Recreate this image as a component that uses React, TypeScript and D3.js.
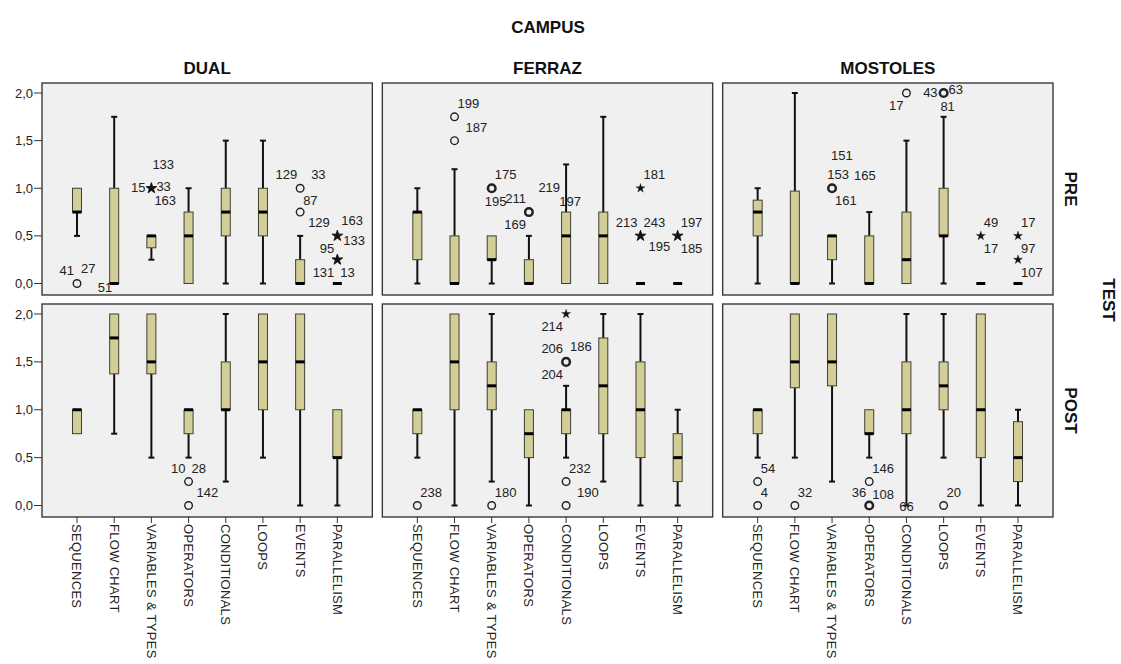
import React from "react";
import * as d3 from "d3";

// ---------- data ----------
const CAMPUSES = ["DUAL", "FERRAZ", "MOSTOLES"];
const TESTS = ["PRE", "POST"];
const CATEGORIES = [
  "SEQUENCES",
  "FLOW CHART",
  "VARIABLES & TYPES",
  "OPERATORS",
  "CONDITIONALS",
  "LOOPS",
  "EVENTS",
  "PARALLELISM",
];
const Y_TICKS = [0, 0.5, 1, 1.5, 2];

// [lower whisker, Q1, median, Q3, upper whisker]
type Stat = [number, number, number, number, number];

const DUAL_PRE: Stat[] = [
  [0.5, 0.75, 0.75, 1, 1],
  [0, 0, 0, 1, 1.75],
  [0.25, 0.375, 0.5, 0.5, 0.5],
  [0, 0, 0.5, 0.75, 1],
  [0, 0.5, 0.75, 1, 1.5],
  [0, 0.5, 0.75, 1, 1.5],
  [0, 0, 0, 0.25, 0.5],
  [0, 0, 0, 0, 0],
];
const FERRAZ_PRE: Stat[] = [
  [0, 0.25, 0.75, 0.75, 1],
  [0, 0, 0, 0.5, 1.2],
  [0, 0.25, 0.25, 0.5, 0.5],
  [0, 0, 0, 0.25, 0.5],
  [0, 0, 0.5, 0.75, 1.25],
  [0, 0, 0.5, 0.75, 1.75],
  [0, 0, 0, 0, 0],
  [0, 0, 0, 0, 0],
];
const MOSTOLES_PRE: Stat[] = [
  [0, 0.5, 0.75, 0.875, 1],
  [0, 0, 0, 0.97, 2],
  [0, 0.25, 0.5, 0.5, 0.5],
  [0, 0, 0, 0.5, 0.75],
  [0, 0, 0.25, 0.75, 1.5],
  [0, 0.5, 0.5, 1, 1.75],
  [0, 0, 0, 0, 0],
  [0, 0, 0, 0, 0],
];
const DUAL_POST: Stat[] = [
  [0.75, 0.75, 1, 1, 1],
  [0.75, 1.375, 1.75, 2, 2],
  [0.5, 1.375, 1.5, 2, 2],
  [0.5, 0.75, 1, 1, 1],
  [0.25, 1, 1, 1.5, 2],
  [0.5, 1, 1.5, 2, 2],
  [0, 1, 1.5, 2, 2],
  [0, 0.5, 0.5, 1, 1],
];
const FERRAZ_POST: Stat[] = [
  [0.5, 0.75, 1, 1, 1],
  [0, 1, 1.5, 2, 2],
  [0.25, 1, 1.25, 1.5, 2],
  [0, 0.5, 0.75, 1, 1],
  [0.5, 0.75, 1, 1, 1.25],
  [0.25, 0.75, 1.25, 1.75, 2],
  [0, 0.5, 1, 1.5, 2],
  [0, 0.25, 0.5, 0.75, 1],
];
const MOSTOLES_POST: Stat[] = [
  [0.5, 0.75, 1, 1, 1],
  [0.5, 1.23, 1.5, 2, 2],
  [0.25, 1.25, 1.5, 2, 2],
  [0.5, 0.75, 0.75, 1, 1],
  [0, 0.75, 1, 1.5, 2],
  [0.5, 1, 1.25, 1.5, 2],
  [0, 0.5, 1, 2, 2],
  [0, 0.25, 0.5, 0.875, 1],
];

// outliers: c = category index, v = value,
// k: "o" circle, "O" heavy circle, "s" star, "S" heavy star, "-" label only
// l: [case label, placement]
type Outlier = { c: number; v: number; k: string; l: [string, string][] };

const DUAL_PRE_OUT: Outlier[] = [
  { c: 0, v: 0, k: "o", l: [["41", "NW"], ["27", "NEhi"]] },
  { c: 1, v: 0, k: "-", l: [["51", "Wlo"]] },
  { c: 2, v: 1, k: "S", l: [["15", "W"], ["133", "NE2"], ["33", "E"], ["163", "SE"]] },
  { c: 6, v: 1, k: "o", l: [["129", "NW"], ["33", "NEfar"], ["87", "SE"]] },
  { c: 6, v: 0.75, k: "o", l: [["129", "SEfar"]] },
  { c: 7, v: 0.5, k: "S", l: [["163", "NEhi"], ["133", "Elo"], ["95", "SW"]] },
  { c: 7, v: 0.25, k: "S", l: [["131", "SW"], ["13", "SE"]] },
];
const FERRAZ_PRE_OUT: Outlier[] = [
  { c: 1, v: 1.75, k: "o", l: [["199", "NE"]] },
  { c: 1, v: 1.5, k: "o", l: [["187", "NEfar"]] },
  { c: 2, v: 1, k: "O", l: [["175", "NE"], ["195", "S"]] },
  { c: 3, v: 0.75, k: "O", l: [["211", "NW"], ["169", "SW"]] },
  { c: 4, v: 1, k: "-", l: [["219", "W"], ["197", "S"]] },
  { c: 6, v: 1, k: "s", l: [["181", "NE"]] },
  { c: 6, v: 0.5, k: "S", l: [["213", "NW"], ["243", "NE"], ["195", "SEfar"]] },
  { c: 7, v: 0.5, k: "S", l: [["197", "NE"], ["185", "SE"]] },
];
const MOSTOLES_PRE_OUT: Outlier[] = [
  { c: 2, v: 1, k: "O", l: [["151", "N3"], ["153", "N"], ["165", "ENE"], ["161", "SE"]] },
  { c: 4, v: 2, k: "o", l: [["17", "SW"]] },
  { c: 5, v: 2, k: "O", l: [["43", "W"], ["63", "Ehi"], ["81", "S"]] },
  { c: 6, v: 0.5, k: "s", l: [["49", "NE"], ["17", "SE"]] },
  { c: 7, v: 0.5, k: "s", l: [["17", "NE"], ["97", "SE"]] },
  { c: 7, v: 0.25, k: "s", l: [["107", "SE"]] },
];
const DUAL_POST_OUT: Outlier[] = [
  { c: 3, v: 0.25, k: "o", l: [["10", "NW"], ["28", "NE"], ["142", "SEfar"]] },
  { c: 3, v: 0, k: "o", l: [] },
];
const FERRAZ_POST_OUT: Outlier[] = [
  { c: 0, v: 0, k: "o", l: [["238", "NE"]] },
  { c: 2, v: 0, k: "o", l: [["180", "NE"]] },
  { c: 4, v: 2, k: "s", l: [["214", "SW"]] },
  { c: 4, v: 1.5, k: "O", l: [["206", "NW"], ["186", "NEhi"], ["204", "SW"]] },
  { c: 4, v: 0.25, k: "o", l: [["232", "NE"]] },
  { c: 4, v: 0, k: "o", l: [["190", "NEfar"]] },
];
const MOSTOLES_POST_OUT: Outlier[] = [
  { c: 0, v: 0.25, k: "o", l: [["54", "NE"]] },
  { c: 0, v: 0, k: "o", l: [["4", "NE"]] },
  { c: 1, v: 0, k: "o", l: [["32", "NE"]] },
  { c: 3, v: 0.25, k: "o", l: [["146", "NE"], ["108", "SE"]] },
  { c: 3, v: 0, k: "O", l: [["36", "NW"]] },
  { c: 4, v: 0, k: "-", l: [["66", "C"]] },
  { c: 5, v: 0, k: "o", l: [["20", "NE"]] },
];

const BOXES: Stat[][][] = [
  [DUAL_PRE, FERRAZ_PRE, MOSTOLES_PRE],
  [DUAL_POST, FERRAZ_POST, MOSTOLES_POST],
];
const OUTLIERS: Outlier[][][] = [
  [DUAL_PRE_OUT, FERRAZ_PRE_OUT, MOSTOLES_PRE_OUT],
  [DUAL_POST_OUT, FERRAZ_POST_OUT, MOSTOLES_POST_OUT],
];

// ---------- layout / style ----------
const W = 1121;
const H = 664;
const FONT = "Arial, 'Liberation Sans', Helvetica, sans-serif";
const LEFT = 42;
const RIGHT = 1053;
const COL_GAP = 10;
const PANEL_W = (RIGHT - LEFT - 2 * COL_GAP) / 3;
const ROWS = [
  { top: 83, bottom: 295 },
  { top: 304, bottom: 517 },
];
const BOX_FILL = "#D3CE97";
const PANEL_FILL = "#F0F0F0";
const BOX_W = 9;
const CAP_W = 6;

const PLACES: Record<string, [string, number, number]> = {
  N: ["middle", 6, -9],
  N3: ["start", -1, -28],
  NE: ["start", 3, -9],
  NEhi: ["start", 4, -11],
  NE2: ["start", 1, -19],
  NEfar: ["start", 11, -9],
  ENE: ["start", 22, -8],
  E: ["start", 5, 3],
  Elo: ["start", 6, 9],
  Ehi: ["start", 5, 1],
  SE: ["start", 3, 17],
  SEfar: ["start", 8, 15],
  S: ["middle", 4, 18],
  SW: ["end", -3, 17],
  W: ["end", -6, 4],
  Wlo: ["end", -2, 8],
  NW: ["end", -3, -9],
  C: ["middle", 0, 5],
};

const starPath = d3.symbol().type(d3.symbolStar).size(26)() as string;
const starPathHeavy = d3.symbol().type(d3.symbolStar).size(36)() as string;

function Panel({ row, col }: { row: number; col: number }) {
  const left = LEFT + col * (PANEL_W + COL_GAP);
  const right = left + PANEL_W;
  const { top, bottom } = ROWS[row];
  const y = d3.scaleLinear().domain([0, 2]).range([bottom - 11.5, top + 10]);
  const x = d3
    .scalePoint<string>()
    .domain(CATEGORIES)
    .range([left + 35, right - 35]);
  const stats = BOXES[row][col];
  const outs = OUTLIERS[row][col];

  return (
    <g>
      <rect
        x={left}
        y={top}
        width={PANEL_W}
        height={bottom - top}
        fill={PANEL_FILL}
        stroke="#3a3a3a"
        strokeWidth={1.4}
      />
      {stats.map((s, i) => {
        const cx = x(CATEGORIES[i]) as number;
        const [lo, q1, med, q3, hi] = s;
        return (
          <g key={i}>
            {lo < q1 && (
              <>
                <line x1={cx} x2={cx} y1={y(lo)} y2={y(q1)} stroke="#111" strokeWidth={2} />
                <line x1={cx - CAP_W / 2} x2={cx + CAP_W / 2} y1={y(lo)} y2={y(lo)} stroke="#111" strokeWidth={2} />
              </>
            )}
            {hi > q3 && (
              <>
                <line x1={cx} x2={cx} y1={y(q3)} y2={y(hi)} stroke="#111" strokeWidth={2} />
                <line x1={cx - CAP_W / 2} x2={cx + CAP_W / 2} y1={y(hi)} y2={y(hi)} stroke="#111" strokeWidth={2} />
              </>
            )}
            {q3 > q1 && (
              <rect
                x={cx - BOX_W / 2}
                y={y(q3)}
                width={BOX_W}
                height={y(q1) - y(q3)}
                fill={BOX_FILL}
                stroke="#3f3f30"
                strokeWidth={1}
              />
            )}
            <line
              x1={cx - BOX_W / 2}
              x2={cx + BOX_W / 2}
              y1={y(med)}
              y2={y(med)}
              stroke="#000"
              strokeWidth={3}
            />
          </g>
        );
      })}
      {outs.map((o, i) => {
        const cx = x(CATEGORIES[o.c]) as number;
        const cy = y(o.v);
        return (
          <g key={"o" + i}>
            {(o.k === "o" || o.k === "O") && (
              <circle
                cx={cx}
                cy={cy}
                r={3.8}
                fill="none"
                stroke="#222"
                strokeWidth={o.k === "O" ? 2.5 : 1.4}
              />
            )}
            {(o.k === "s" || o.k === "S") && (
              <path
                d={o.k === "S" ? starPathHeavy : starPath}
                transform={`translate(${cx},${cy})`}
                fill="#111"
                stroke="#111"
                strokeWidth={o.k === "S" ? 0.9 : 0.3}
              />
            )}
            {o.l.map(([t, p], j) => {
              const [anchor, dx, dy] = PLACES[p];
              return (
                <text
                  key={j}
                  x={cx + dx}
                  y={cy + dy}
                  textAnchor={anchor as any}
                  fontSize={13}
                  fontFamily={FONT}
                  fill="#222"
                >
                  {t}
                </text>
              );
            })}
          </g>
        );
      })}
      {col === 0 &&
        Y_TICKS.map((t) => (
          <g key={"yt" + t}>
            <line x1={left - 8} x2={left} y1={y(t)} y2={y(t)} stroke="#333" strokeWidth={1} />
            <text
              x={left - 9}
              y={y(t)}
              dy="0.35em"
              textAnchor="end"
              fontSize={13}
              fontFamily={FONT}
              fill="#222"
            >
              {d3.format(".1f")(t).replace(".", ",")}
            </text>
          </g>
        ))}
      {row === 1 &&
        CATEGORIES.map((c) => {
          const cx = x(c) as number;
          return (
            <g key={"xt" + c}>
              <line x1={cx} x2={cx} y1={bottom} y2={bottom + 6} stroke="#333" strokeWidth={1} />
              <text
                transform={`translate(${cx},${bottom + 7}) rotate(90)`}
                dy="0.35em"
                textAnchor="start"
                fontSize={13}
                letterSpacing={0.3}
                fontFamily={FONT}
                fill="#222"
              >
                {c}
              </text>
            </g>
          );
        })}
    </g>
  );
}

export default function App() {
  const centers = CAMPUSES.map((_, i) => LEFT + i * (PANEL_W + COL_GAP) + PANEL_W / 2);
  return (
    <div style={{ position: "absolute", left: 0, top: 0 }}>
      <svg width={W} height={H} style={{ display: "block", background: "#fff" }}>
        <text x={548} y={33} textAnchor="middle" fontSize={17} fontWeight="bold" fontFamily={FONT} fill="#111">
          CAMPUS
        </text>
        {CAMPUSES.map((c, i) => (
          <text key={c} x={centers[i]} y={74} textAnchor="middle" fontSize={17} fontWeight="bold" fontFamily={FONT} fill="#111">
            {c}
          </text>
        ))}
        {TESTS.map((t, r) =>
          CAMPUSES.map((c, ci) => <Panel key={t + c} row={r} col={ci} />)
        )}
        {TESTS.map((t, r) => (
          <text
            key={t}
            transform={`translate(1071,${(ROWS[r].top + ROWS[r].bottom) / 2}) rotate(90)`}
            dy="0.35em"
            textAnchor="middle"
            fontSize={17}
            fontWeight="bold"
            fontFamily={FONT}
            fill="#111"
          >
            {t}
          </text>
        ))}
        <text
          transform={`translate(1109,300) rotate(90)`}
          dy="0.35em"
          textAnchor="middle"
          fontSize={17}
          fontWeight="bold"
          fontFamily={FONT}
          fill="#111"
        >
          TEST
        </text>
      </svg>
    </div>
  );
}
